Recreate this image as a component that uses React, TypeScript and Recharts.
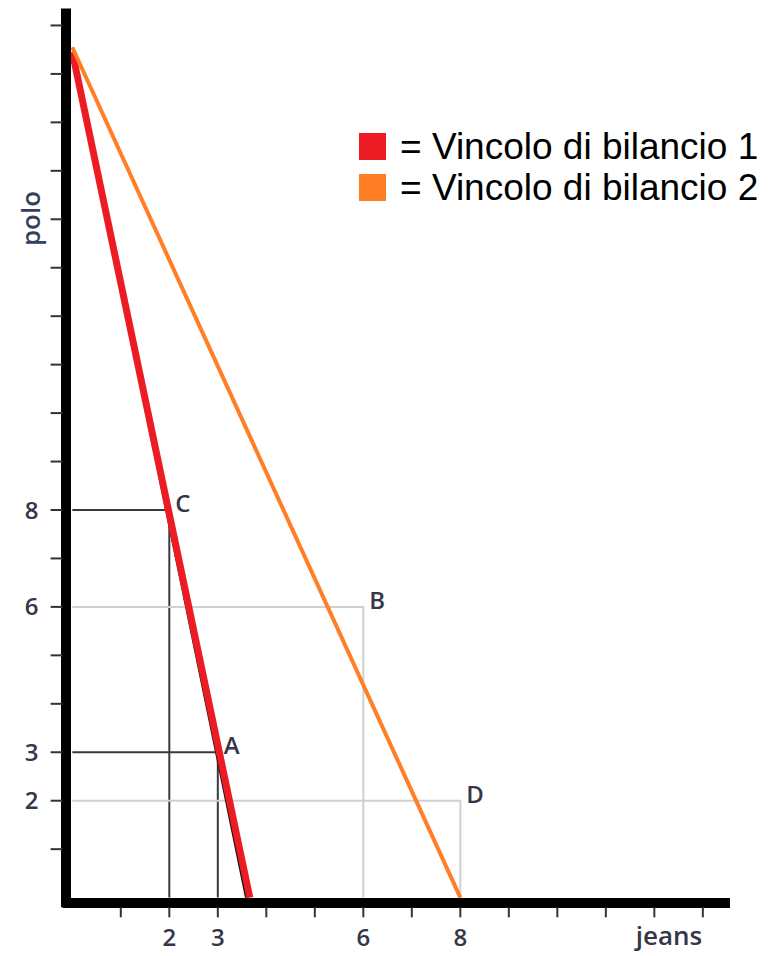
import React from "react";
import { LineChart, Line, XAxis, YAxis, ReferenceLine, ReferenceDot, Legend, Label } from "recharts";

// tick marks at every unit, numbers only on a few of them
const jeansTicks = [1, 2, 3, 4, 5, 6, 7, 8, 9, 10, 11, 12, 13];
const poloTicks = [1, 2, 3, 4, 5, 6, 7, 8, 9, 10, 11, 12, 13, 14, 15, 16, 17, 18];
const jeansLabels = [2, 3, 6, 8];
const poloLabels = [2, 3, 6, 8];

const budgetLine1 = [
  { x: 0, y: 17.45 },
  { x: 3.66, y: 0 },
];
const budgetLine2 = [
  { x: 0, y: 17.55 },
  { x: 8, y: 0 },
];
// thin black line showing just left of budget line 1
const blackLine = [
  { x: 0, y: 17.4 },
  { x: 3.58, y: 0 },
];

const points = [
  { name: "C", x: 2, y: 8, budget: 1 },
  { name: "A", x: 3, y: 3, budget: 1 },
  { name: "B", x: 6, y: 6, budget: 2 },
  { name: "D", x: 8, y: 2, budget: 2 },
];

const legendNames = ["Vincolo di bilancio 1", "Vincolo di bilancio 2"];
const legendColors = ["#ED1C24", "#FF7F27"];

const X_MIN = -0.2;
const X_MAX = 13.56;
const Y_MIN = -0.2;
const Y_MAX = 18.35;

const LABEL_FONT = "'Open Sans', 'DejaVu Sans', sans-serif";
const INK = "#363648";

function renderLegend() {
  return (
    <div style={{ fontFamily: "'Liberation Sans', Arial, sans-serif", color: "#000" }}>
      {legendNames.map((name, i) => (
        <div key={name} style={{ display: "flex", alignItems: "center", height: 41 }}>
          <span
            style={{
              display: "inline-block",
              width: 27,
              height: 27,
              backgroundColor: legendColors[i],
              marginRight: 14,
            }}
          />
          <span style={{ fontSize: 37, lineHeight: "41px", whiteSpace: "nowrap" }}>= {name}</span>
        </div>
      ))}
    </div>
  );
}

export default function App() {
  return (
    <div style={{ width: 774, height: 956, background: "#fff" }}>
      <style>{"body{margin:0}"}</style>
      <LineChart width={774} height={956} margin={{ top: 8.5, right: 44, bottom: 0, left: 0 }}>
        <XAxis
          type="number"
          dataKey="x"
          domain={[X_MIN, X_MAX]}
          ticks={jeansTicks}
          interval={0}
          allowDataOverflow
          height={48.7}
          axisLine={false}
          tickLine={{ stroke: "#333", strokeWidth: 2 }}
          tickSize={10}
          tickMargin={12}
          tickFormatter={(v) => (jeansLabels.includes(v) ? String(v) : "")}
          tick={{ fontSize: 24, fontWeight: 600, fill: INK, fontFamily: LABEL_FONT }}
        >
          <Label
            content={(p: any) => {
              const vb = p.viewBox;
              return (
                <text
                  x={vb.x + vb.width - 61}
                  y={vb.y + 38}
                  textAnchor="middle"
                  fontSize={26}
                  fontWeight={600}
                  fill={INK}
                  fontFamily={LABEL_FONT}
                >
                  jeans
                </text>
              );
            }}
          />
        </XAxis>
        <YAxis
          type="number"
          dataKey="y"
          domain={[Y_MIN, Y_MAX]}
          ticks={poloTicks}
          interval={0}
          allowDataOverflow
          width={62.6}
          axisLine={false}
          tickLine={{ stroke: "#333", strokeWidth: 2 }}
          tickSize={12}
          tickMargin={12}
          tickFormatter={(v) => (poloLabels.includes(v) ? String(v) : "")}
          tick={{ fontSize: 24, fontWeight: 600, fill: INK, fontFamily: LABEL_FONT }}
        >
          <Label
            content={(p: any) => {
              const vb = p.viewBox;
              const cx = vb.x + 30;
              const cy = vb.y + 210;
              return (
                <text
                  x={cx}
                  y={cy}
                  transform={`rotate(-90, ${cx}, ${cy})`}
                  textAnchor="middle"
                  dominantBaseline="central"
                  fontSize={26}
                  fontWeight={600}
                  fill="#34405e"
                  fontFamily={LABEL_FONT}
                >
                  polo
                </text>
              );
            }}
          />
        </YAxis>

        {points.map((p) => (
          <Line
            key={"guide-" + p.name}
            data={[
              { x: 0, y: p.y },
              { x: p.x, y: p.y },
              { x: p.x, y: 0 },
            ]}
            dataKey="y"
            type="linear"
            stroke={p.budget === 1 ? "#3a3a3a" : "#d0d0d0"}
            strokeWidth={2}
            dot={false}
            activeDot={false}
            legendType="none"
            isAnimationActive={false}
          />
        ))}

        <Line data={blackLine} dataKey="y" type="linear" stroke="#111" strokeWidth={2} dot={false} activeDot={false} legendType="none" isAnimationActive={false} />
        <Line data={budgetLine1} dataKey="y" type="linear" stroke={legendColors[0]} strokeWidth={7} dot={false} activeDot={false} isAnimationActive={false} />
        <Line data={budgetLine2} dataKey="y" type="linear" stroke={legendColors[1]} strokeWidth={4} dot={false} activeDot={false} isAnimationActive={false} />

        {/* thick black axes, drawn just outside the zero lines */}
        <ReferenceLine
          segment={[
            { x: -0.13, y: Y_MIN },
            { x: -0.13, y: Y_MAX },
          ]}
          stroke="#000"
          strokeWidth={10}
        />
        <ReferenceLine
          segment={[
            { x: X_MIN, y: -0.11 },
            { x: X_MAX, y: -0.11 },
          ]}
          stroke="#000"
          strokeWidth={10}
        />

        {points.map((p) => (
          <ReferenceDot
            key={"lbl-" + p.name}
            x={p.x}
            y={p.y}
            r={0}
            fill="none"
            stroke="none"
            label={
              <Label
                content={(lp: any) => {
                  const vb = lp.viewBox;
                  return (
                    <text x={vb.x + 6} y={vb.y + 2} fontSize={24} fontWeight={600} fill={INK} fontFamily={LABEL_FONT}>
                      {p.name}
                    </text>
                  );
                }}
              />
            }
          />
        ))}

        <Legend
          layout="vertical"
          align="center"
          verticalAlign="middle"
          content={renderLegend}
          wrapperStyle={{ top: 126, left: 359, width: 415 }}
        />
      </LineChart>
    </div>
  );
}
